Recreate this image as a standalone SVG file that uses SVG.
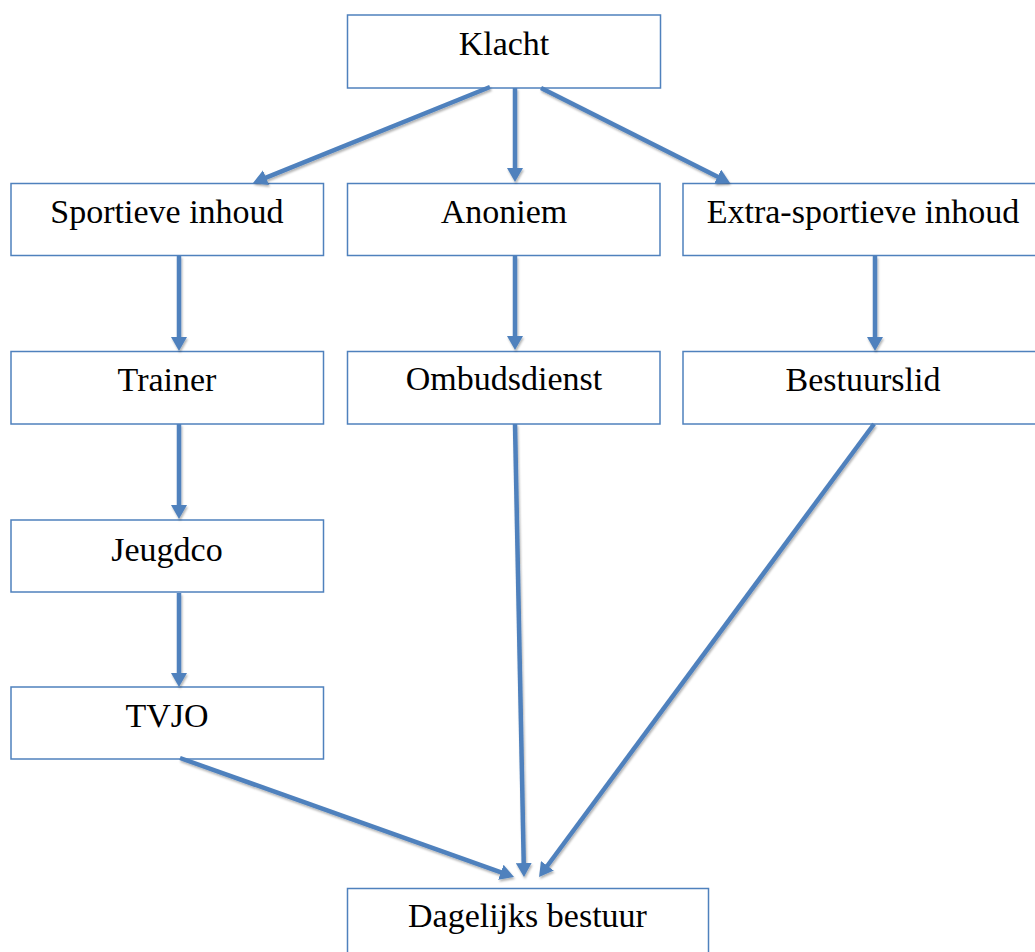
<svg xmlns="http://www.w3.org/2000/svg" width="1035" height="952" viewBox="0 0 1035 952">
<style>
.box{fill:#ffffff;stroke:#4f81bd;stroke-width:1.5}
.lbl{font-family:"Liberation Serif","Times New Roman",serif;font-size:34px;fill:#000000;text-anchor:middle}
.con{stroke:#4f81bd;stroke-width:4.5;fill:none;marker-end:url(#ah);filter:url(#sh)}
</style>
<defs>
<marker id="ah" viewBox="0 0 14 16" refX="4" refY="8" markerWidth="14" markerHeight="16" markerUnits="userSpaceOnUse" orient="auto">
<path d="M0,0 L14,8 L0,16 z" fill="#4f81bd"/>
</marker>
<filter id="sh" filterUnits="userSpaceOnUse" x="0" y="0" width="1035" height="952">
<feDropShadow dx="1" dy="2" stdDeviation="1.2" flood-color="#000" flood-opacity="0.3"/>
</filter>
</defs>
<rect width="1035" height="952" fill="#ffffff"/>
<g id="klacht"><rect class="box" x="347.5" y="15" width="313" height="73"/><text class="lbl" x="504" y="55">Klacht</text></g>
<g id="sportieve"><rect class="box" x="11" y="183.5" width="312.5" height="72"/><text class="lbl" x="167" y="223">Sportieve inhoud</text></g>
<g id="anoniem"><rect class="box" x="347.5" y="183.5" width="312.5" height="72"/><text class="lbl" x="504" y="223">Anoniem</text></g>
<g id="extra"><rect class="box" x="683" y="183.5" width="400" height="72"/><text class="lbl" x="863" y="223">Extra-sportieve inhoud</text></g>
<g id="trainer"><rect class="box" x="11" y="351.5" width="312.5" height="72.5"/><text class="lbl" x="167" y="391">Trainer</text></g>
<g id="ombudsdienst"><rect class="box" x="347.5" y="351.5" width="312.5" height="72.5"/><text class="lbl" x="504" y="390">Ombudsdienst</text></g>
<g id="bestuurslid"><rect class="box" x="683" y="351.5" width="400" height="72.5"/><text class="lbl" x="863" y="391">Bestuurslid</text></g>
<g id="jeugdco"><rect class="box" x="11" y="520" width="312.5" height="72"/><text class="lbl" x="167" y="561">Jeugdco</text></g>
<g id="tvjo"><rect class="box" x="11" y="687" width="312.5" height="72"/><text class="lbl" x="167" y="727">TVJO</text></g>
<g id="dagelijks"><rect class="box" x="347.5" y="888.5" width="361" height="80"/><text class="lbl" x="527.5" y="927">Dagelijks bestuur</text></g>
<g id="connectors">
<line class="con" x1="490" y1="87" x2="262.3" y2="179.2"/>
<line class="con" x1="515" y1="88" x2="515" y2="172"/>
<line class="con" x1="541" y1="88" x2="721.1" y2="178.5"/>
<line class="con" x1="179" y1="256" x2="179" y2="341"/>
<line class="con" x1="515" y1="256" x2="515" y2="340"/>
<line class="con" x1="875" y1="256" x2="875" y2="341"/>
<line class="con" x1="179" y1="424" x2="179" y2="509"/>
<line class="con" x1="179" y1="593" x2="179" y2="677"/>
<line class="con" x1="180" y1="758" x2="504.6" y2="873.6"/>
<line class="con" x1="515" y1="424" x2="523.8" y2="867"/>
<line class="con" x1="874" y1="424" x2="545" y2="869"/>
</g>
</svg>
